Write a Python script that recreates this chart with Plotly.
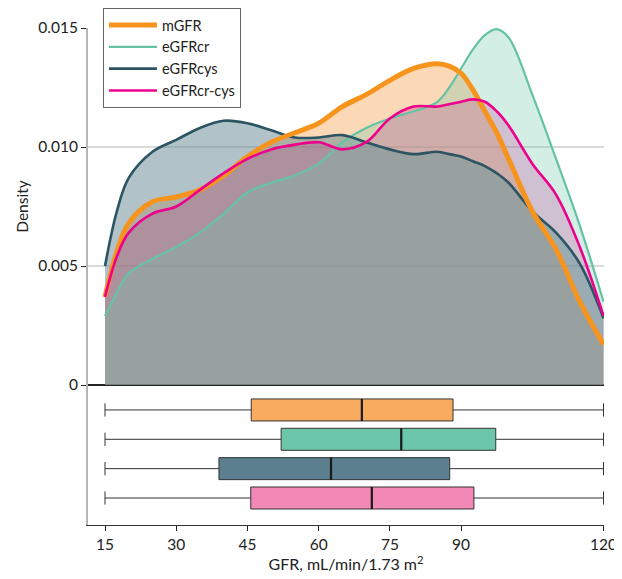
import plotly.graph_objects as go

# ---- data ----
gfr_grid = [15, 17.5, 20, 25, 30, 35, 40, 45, 50, 55, 60, 65, 70, 75, 80, 85,
            87.5, 90, 92.5, 95, 97.5, 100, 105, 110, 115, 120]

dens_mgfr = [0.0037, 0.0056, 0.0068, 0.0077, 0.0079, 0.0082, 0.0088, 0.0096, 0.0102,
             0.0106, 0.0110, 0.0117, 0.0122, 0.0128, 0.0133, 0.0135, 0.0134, 0.0131,
             0.0124, 0.0115, 0.0106, 0.0095, 0.0073, 0.0057, 0.0035, 0.0017]
dens_egfrcr = [0.0029, 0.0039, 0.0047, 0.0053, 0.0058, 0.0064, 0.0072, 0.0081, 0.0085,
               0.0088, 0.0093, 0.0102, 0.0108, 0.0112, 0.0115, 0.0119, 0.0125, 0.0133,
               0.0141, 0.0147, 0.01495, 0.0146, 0.0122, 0.0095, 0.0067, 0.0035]
dens_egfrcys = [0.0050, 0.0073, 0.0087, 0.0098, 0.0103, 0.0108, 0.0111, 0.0110, 0.0107,
                0.0104, 0.0104, 0.0105, 0.0102, 0.0099, 0.0097, 0.0098, 0.0097, 0.0096,
                0.0094, 0.0092, 0.0089, 0.0085, 0.0073, 0.0064, 0.0051, 0.0028]
dens_egfrcrcys = [0.0037, 0.0054, 0.0064, 0.0072, 0.0075, 0.0082, 0.0089, 0.0095, 0.0099,
                  0.0101, 0.0102, 0.0099, 0.0102, 0.0112, 0.0117, 0.0117, 0.0118, 0.0119,
                  0.0120, 0.0119, 0.0115, 0.0109, 0.0093, 0.0080, 0.0058, 0.0029]

series_names = ["mGFR", "eGFRcr", "eGFRcys", "eGFRcr-cys"]
box_q1 = [45.8, 52.1, 39.0, 45.7]
box_median = [69.1, 77.4, 62.6, 71.2]
box_q3 = [88.3, 97.3, 87.6, 92.7]
box_min = [15, 15, 15, 15]
box_max = [120, 120, 120, 120]

x_ticks = [15, 30, 45, 60, 75, 90, 120]
y_ticks = [0, 0.005, 0.010, 0.015]
y_ticktext = ["0", "0.005", "0.010", "0.015"]

# ---- styles ----
dens = {"mGFR": dens_mgfr, "eGFRcr": dens_egfrcr, "eGFRcys": dens_egfrcys,
        "eGFRcr-cys": dens_egfrcrcys}
line_col = {"mGFR": "#F7941D", "eGFRcr": "#66C2A5", "eGFRcys": "#2C5462",
            "eGFRcr-cys": "#EC008C"}
line_w = {"mGFR": 5, "eGFRcr": 2.2, "eGFRcys": 2.6, "eGFRcr-cys": 2.6}
fill_col = {"mGFR": "rgba(249,170,94,0.45)", "eGFRcr": "rgba(109,199,169,0.30)",
            "eGFRcys": "rgba(91,127,141,0.48)", "eGFRcr-cys": "rgba(236,0,140,0.25)"}
box_col = {"mGFR": "#F9AB5F", "eGFRcr": "#6CC6A9", "eGFRcys": "#5B7F8E",
           "eGFRcr-cys": "#F288B6"}

FONT = "Lato"
FS = 15.5
fig = go.Figure()

# filled areas
for nm in ["mGFR", "eGFRcr-cys", "eGFRcys", "eGFRcr"]:
    fig.add_trace(go.Scatter(x=gfr_grid, y=dens[nm], mode="lines",
                             line=dict(width=0, shape="spline", smoothing=1),
                             fill="tozeroy", fillcolor=fill_col[nm],
                             showlegend=False, hoverinfo="skip",
                             xaxis="x", yaxis="y"))
# lines
for nm in ["eGFRcr", "eGFRcys", "mGFR", "eGFRcr-cys"]:
    fig.add_trace(go.Scatter(x=gfr_grid, y=dens[nm], mode="lines", name=nm,
                             line=dict(width=line_w[nm], color=line_col[nm],
                                       shape="spline", smoothing=1),
                             legendrank=series_names.index(nm) + 1,
                             xaxis="x", yaxis="y"))
# boxes
for i, nm in enumerate(series_names):
    fig.add_trace(go.Box(y=[nm], q1=[box_q1[i]], median=[box_median[i]], q3=[box_q3[i]],
                         lowerfence=[box_min[i]], upperfence=[box_max[i]],
                         orientation="h", fillcolor=box_col[nm],
                         line=dict(color="#333333", width=1), whiskerwidth=0.6,
                         width=0.75, boxpoints=False, showlegend=False,
                         hoverinfo="skip", xaxis="x", yaxis="y2"))
    # thicker median mark (zero-width box at the median)
    fig.add_trace(go.Box(y=[nm], q1=[box_median[i]], median=[box_median[i]],
                         q3=[box_median[i]], lowerfence=[box_median[i]],
                         upperfence=[box_median[i]], orientation="h",
                         fillcolor="rgba(0,0,0,0)",
                         line=dict(color="#1a1a1a", width=2.2), whiskerwidth=0,
                         width=0.75, boxpoints=False, showlegend=False,
                         hoverinfo="skip", xaxis="x", yaxis="y2"))

split = 140 / 497
fig.update_layout(
    width=614, height=571, autosize=False,
    margin=dict(l=80, r=18, t=20, b=54, autoexpand=False),
    paper_bgcolor="white", plot_bgcolor="white",
    font=dict(family=FONT, size=FS, color="#222222"),
    showlegend=True, boxmode="overlay",
    legend=dict(x=0.029, y=1 + 20 / 497, xanchor="left", yanchor="top",
                bgcolor="white", bordercolor="#666666", borderwidth=1,
                font=dict(family=FONT, size=14.5, color="#222222"),
                itemwidth=48, tracegroupgap=0),
    xaxis=dict(domain=[0, 1], range=[11.42, 120.1], anchor="y2", automargin=False,
               tickvals=x_ticks, ticks="outside", ticklen=5, tickcolor="#222222",
               showline=True, linecolor="#333333", linewidth=1,
               showgrid=False, zeroline=False,
               title=dict(text="GFR, mL/min/1.73 m<sup>2</sup>", standoff=6,
                          font=dict(size=16))),
    yaxis=dict(domain=[split, 1], range=[0, 0.015], anchor="x", automargin=False,
               tickvals=y_ticks, ticktext=y_ticktext, ticks="outside", ticklen=5,
               tickcolor="#222222", showline=True, linecolor="#B5B5B5", linewidth=2,
               showgrid=True, gridcolor="#DADADA", gridwidth=1.5,
               zeroline=True, zerolinecolor="#222222", zerolinewidth=1.5,
               title=dict(text="Density", standoff=6, font=dict(size=FS))),
    yaxis2=dict(domain=[0, split], anchor="x", type="category", automargin=False,
                categoryorder="array", categoryarray=series_names,
                range=[3.92, -0.85], showline=True, linecolor="#B5B5B5", linewidth=2,
                showticklabels=False, ticks="", showgrid=False, zeroline=False),
)

fig.write_html("out.html")
